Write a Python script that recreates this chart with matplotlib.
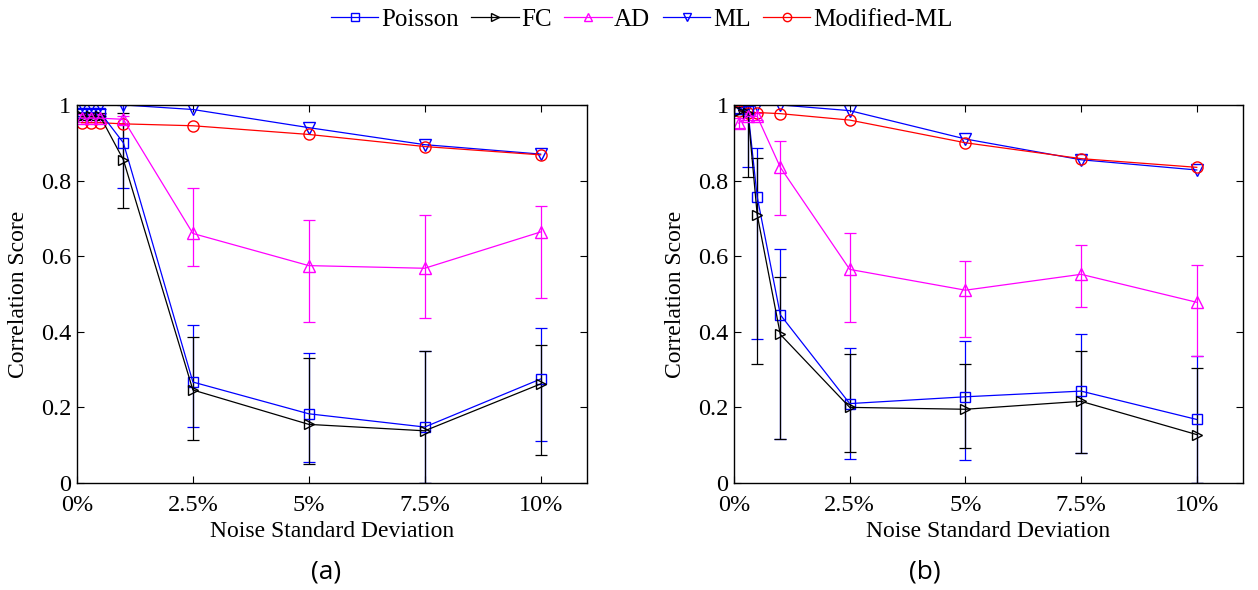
import matplotlib
matplotlib.use("Agg")
import matplotlib.pyplot as plt
from matplotlib.lines import Line2D
import numpy as np

plt.rcParams['font.family'] = ['Liberation Serif', 'DejaVu Serif']

# noise levels (%)
noise = [0.1, 0.3, 0.5, 1.0, 2.5, 5.0, 7.5, 10.0]
xtick_vals = [0, 2.5, 5, 7.5, 10]
xtick_labels = ['0%', '2.5%', '5%', '7.5%', '10%']
ytick_vals = [0, 0.2, 0.4, 0.6, 0.8, 1.0]
ytick_labels = ['0', '0.2', '0.4', '0.6', '0.8', '1']

# ---- panel (a) ----
a_poisson = [0.98, 0.98, 0.98, 0.90, 0.267, 0.183, 0.148, 0.275]
a_poisson_lo = [0.97, 0.97, 0.97, 0.78, 0.148, 0.055, 0.0, 0.11]
a_poisson_hi = [0.99, 0.99, 0.99, 1.0, 0.418, 0.345, 0.35, 0.41]
a_fc = [0.97, 0.97, 0.97, 0.855, 0.246, 0.155, 0.138, 0.262]
a_fc_lo = [0.96, 0.96, 0.96, 0.727, 0.114, 0.05, 0.0, 0.075]
a_fc_hi = [0.98, 0.98, 0.98, 0.98, 0.386, 0.33, 0.35, 0.365]
a_ad = [0.965, 0.965, 0.965, 0.962, 0.66, 0.575, 0.568, 0.664]
a_ad_lo = [0.955, 0.955, 0.955, 0.95, 0.575, 0.425, 0.437, 0.49]
a_ad_hi = [0.975, 0.975, 0.975, 0.972, 0.78, 0.695, 0.71, 0.733]
a_ml = [1.0, 1.0, 1.0, 1.0, 0.988, 0.94, 0.895, 0.87]
a_mml = [0.953, 0.953, 0.953, 0.95, 0.945, 0.922, 0.89, 0.868]

# ---- panel (b) ----
b_poisson = [0.99, 0.985, 0.757, 0.445, 0.21, 0.228, 0.243, 0.168]
b_poisson_lo = [0.98, 0.836, 0.38, 0.116, 0.063, 0.06, 0.08, 0.0]
b_poisson_hi = [1.0, 1.0, 0.885, 0.62, 0.358, 0.375, 0.393, 0.335]
b_fc = [0.985, 0.98, 0.71, 0.393, 0.20, 0.195, 0.216, 0.128]
b_fc_lo = [0.975, 0.81, 0.315, 0.117, 0.082, 0.093, 0.078, 0.0]
b_fc_hi = [0.995, 1.0, 0.86, 0.545, 0.341, 0.315, 0.35, 0.305]
b_ad = [0.952, 0.97, 0.97, 0.835, 0.565, 0.51, 0.552, 0.478]
b_ad_lo = [0.94, 0.96, 0.96, 0.71, 0.425, 0.385, 0.465, 0.335]
b_ad_hi = [0.965, 0.98, 0.98, 0.905, 0.66, 0.588, 0.63, 0.576]
b_ml = [1.0, 1.0, 1.0, 1.0, 0.985, 0.91, 0.855, 0.828]
b_mml = [0.985, 0.98, 0.98, 0.977, 0.96, 0.90, 0.858, 0.835]

series_names = ['Poisson', 'FC', 'AD', 'ML', 'Modified-ML']

BLUE = '#0000ff'
MAG = '#ff00ff'
RED = '#ff0000'

styles = {
    'Poisson': dict(color=BLUE, marker='s', ms=6.5),
    'FC': dict(color='black', marker='>', ms=7),
    'AD': dict(color=MAG, marker='^', ms=8),
    'ML': dict(color=BLUE, marker='v', ms=8),
    'Modified-ML': dict(color=RED, marker='o', ms=8),
}


def draw_err(ax, name, y, lo, hi):
    st = styles[name]
    y = np.array(y)
    yerr = [y - np.array(lo), np.array(hi) - y]
    ax.errorbar(noise, y, yerr=yerr, color=st['color'], lw=0.9, elinewidth=0.9,
                capsize=4, capthick=0.9, marker=st['marker'], ms=st['ms'],
                mfc='none', mec=st['color'])


def draw_line(ax, name, y):
    st = styles[name]
    ax.plot(noise, y, color=st['color'], lw=0.9, marker=st['marker'], ms=st['ms'],
            mfc='none', mec=st['color'])


def draw_panel(ax, poi, poi_lo, poi_hi, fc, fc_lo, fc_hi, ad, ad_lo, ad_hi, ml, mml):
    draw_err(ax, 'Poisson', poi, poi_lo, poi_hi)
    draw_err(ax, 'FC', fc, fc_lo, fc_hi)
    draw_err(ax, 'AD', ad, ad_lo, ad_hi)
    draw_line(ax, 'ML', ml)
    draw_line(ax, 'Modified-ML', mml)
    ax.set_xlim(0, 11)
    ax.set_ylim(0, 1)
    ax.set_xticks(xtick_vals)
    ax.set_xticklabels(xtick_labels)
    ax.set_yticks(ytick_vals)
    ax.set_yticklabels(ytick_labels)
    ax.tick_params(direction='in', top=True, right=True, labelsize=17.5, length=5, width=0.8)
    ax.tick_params(axis='x', pad=9)
    ax.tick_params(axis='y', pad=4)
    ax.set_xlabel('Noise Standard Deviation', fontsize=17, labelpad=3)
    ax.set_ylabel('Correlation Score', fontsize=17, labelpad=9)
    for s in ax.spines.values():
        s.set_linewidth(1.0)


fig = plt.figure(figsize=(12.58, 5.9), dpi=100)
ax1 = fig.add_axes([0.0612, 0.1814, 0.4054, 0.6407])
ax2 = fig.add_axes([0.5835, 0.1814, 0.4046, 0.6407])

draw_panel(ax1, a_poisson, a_poisson_lo, a_poisson_hi, a_fc, a_fc_lo, a_fc_hi,
           a_ad, a_ad_lo, a_ad_hi, a_ml, a_mml)
draw_panel(ax2, b_poisson, b_poisson_lo, b_poisson_hi, b_fc, b_fc_lo, b_fc_hi,
           b_ad, b_ad_lo, b_ad_hi, b_ml, b_mml)

handles = [Line2D([], [], color=styles[n]['color'], lw=0.9, marker=styles[n]['marker'],
                  ms=6, mfc='none', mec=styles[n]['color']) for n in series_names]
fig.legend(handles, series_names, loc='center', bbox_to_anchor=(0.51, 0.967), ncol=5,
           frameon=False, fontsize=18, handlelength=1.9, handletextpad=0.1,
           columnspacing=0.5)

fig.text(0.2592, 0.03, '(a)', ha='center', va='center', fontsize=19, family='Open Sans')
fig.text(0.7350, 0.03, '(b)', ha='center', va='center', fontsize=19, family='Open Sans')

fig.savefig('out.png', dpi=100)
